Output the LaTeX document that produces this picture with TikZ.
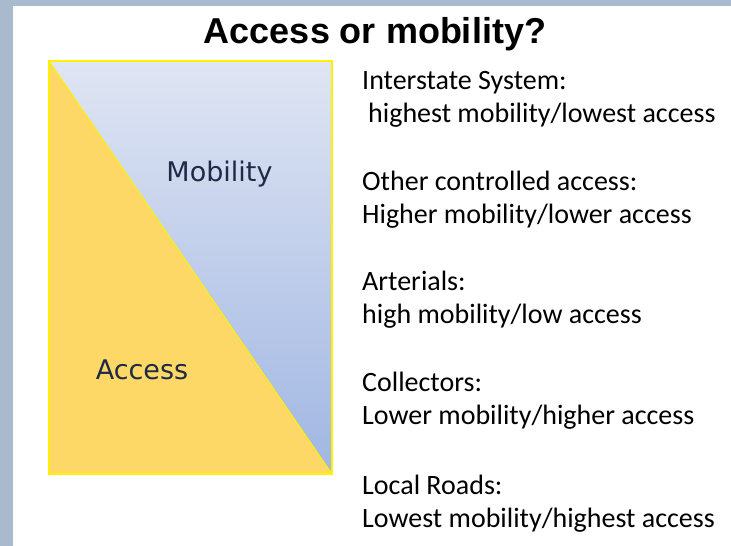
\documentclass[tikz,border=0pt]{standalone}
\usepackage{fontspec}
\setmainfont{Carlito}
\newfontfamily\titlefont{Liberation Sans}
\newfontfamily\partfont{DejaVu Sans}
\usetikzlibrary{shapes}

\definecolor{slideframe}{RGB}{169,185,206}
\definecolor{accessfill}{RGB}{253,216,102}
\definecolor{mobtop}{RGB}{223,229,243}
\definecolor{mobbottom}{RGB}{160,182,226}
\definecolor{labelnavy}{RGB}{30,42,70}

\begin{document}
\begin{tikzpicture}[x=1pt,y=-1pt]
	\tikzset{road/.style={anchor=base west, align=left, inner sep=0pt, font=\fontsize{28}{33}\selectfont}}
	\tikzset{part/.style={anchor=base, inner sep=0pt, text=labelnavy, font=\partfont\fontsize{27}{32}\selectfont}}
	% slide frame
	\fill[slideframe] (0,0) rectangle (731,546);
	\fill[white] (13,6) rectangle (731,546);
	\useasboundingbox (0,0) rectangle (731,546);
	
	\node (title) at (375,43) [anchor=base, inner sep=0pt, font=\titlefont\bfseries\fontsize{36}{42}\selectfont] {Access or mobility?};
	
	% the two triangles
	\shade[top color=mobtop, bottom color=mobbottom] (49,61) -- (332,61) -- (332,474) -- cycle;
	\fill[accessfill] (49,61) -- (49,474) -- (332,474) -- cycle;
	\draw[yellow, line width=1.2pt] (49,61) rectangle (332,474);
	\draw[yellow, line width=1pt] (49,61) -- (332,474);
	\node (mob) at (219.5,181) [part] {Mobility};
	\node (acc) at (142,379) [part] {Access};
	
	% road classes (base = last line)
	\node (inter) at (362,122) [road] {Interstate System:\\\hspace*{6pt}highest mobility/lowest access};
	\node (ctrl) at (362,223) [road] {Other controlled access:\\Higher mobility/lower access};
	\node (art) at (362,323) [road] {Arterials:\\high mobility/low access};
	\node (coll) at (362,424) [road] {Collectors:\\Lower mobility/higher access};
	\node (local) at (362,527) [road] {Local Roads:\\Lowest mobility/highest access};
\end{tikzpicture}
\end{document}
